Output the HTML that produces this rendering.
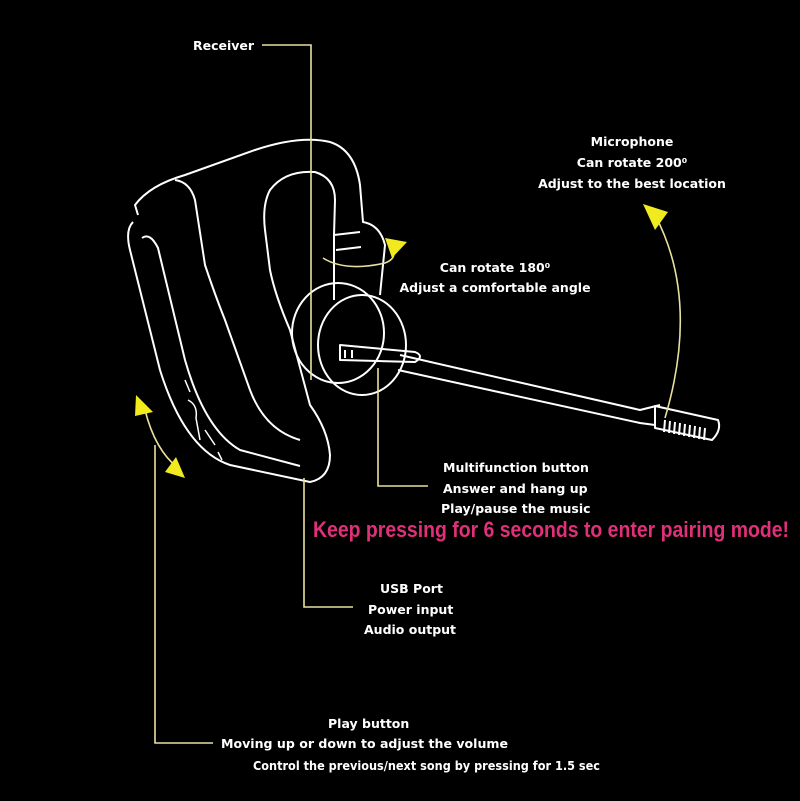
<!DOCTYPE html>
<html><head><meta charset="utf-8"><style>
html,body{margin:0;padding:0;background:#000;}
svg{display:block}
text{font-family:"DejaVu Sans","Liberation Sans",sans-serif;fill:#fff;font-size:12.5px;font-weight:bold;}
</style></head><body>
<svg width="800" height="801" viewBox="0 0 800 801">
<rect width="800" height="801" fill="#000"/>
<g fill="none" stroke="#fff" stroke-width="2" stroke-linejoin="round">
 <path d="M138,215 L135,205 Q150,185 185,175 L255,150 Q300,135 330,142 Q355,150 360,185 L363,222 Q380,225 385,245 L380,295"/>
 <path d="M133,222 Q125,230 130,250 L160,370 Q185,450 230,465 L310,482 Q330,478 330,455 Q328,430 310,405 L290,330 Q275,295 270,270 L265,230 Q262,205 270,190 Q285,170 315,172 Q335,178 335,200 L334,235"/>
 <path d="M142,238 Q150,232 158,248 L185,360 Q205,430 240,450 L300,466"/>
 <path d="M175,180 Q190,182 195,200 L205,265 Q215,295 225,320 L250,390 Q265,430 300,440"/>
 <path d="M334,235 L360,232 M336,250 L361,247 M334,235 L334,300"/>
 <ellipse cx="338" cy="333" rx="46" ry="50"/>
 <ellipse cx="362" cy="345" rx="44" ry="50"/>
 <path d="M340,345 L415,352 Q425,356 415,362 L340,360 Z"/>
 <path d="M345,350 L345,358 M352,350 L352,358"/>
 <path d="M400,355 L640,410 L660,405 M398,370 L640,423 L655,425"/>
 <path d="M655,406 L718,420 Q722,430 712,440 L655,428 Z"/>
 <path d="M665,420 L664,432 M670,421 L669,433 M675,422 L674,434 M680,423 L679,435 M685,424 L684,436 M690,425 L689,437 M695,426 L694,438 M700,427 L699,439 M705,428 L704,440"/>
 <path d="M185,380 L190,392 M188,400 Q198,405 196,418 L200,440 M205,430 L215,445 M218,452 L222,460" stroke-width="1.5"/>
</g>
<g fill="none" stroke="#e8e0a0" stroke-width="1.6">
 <path d="M262,45 L311,45 L311,380"/>
 <path d="M304,478 L304,607 L353,607"/>
 <path d="M378,368 L378,486 L428,486"/>
 <path d="M155,445 L155,743 L213,743"/>
</g>
<g fill="none" stroke="#e8e0a0" stroke-width="1.6">
 <path d="M665,418 Q700,300 655,215"/>
 <path d="M145,410 Q155,450 178,468"/>
 <path d="M323,258 Q345,272 385,263 Q398,258 392,248"/>
</g>
<g fill="#f0ea1e">
 <polygon points="643,204 668,212 655,230"/>
 <polygon points="136,395 153,412 135,416"/>
 <polygon points="185,478 165,472 176,457"/>
 <polygon points="407,242 385,238 392,258"/>
</g>
<text x="193" y="50">Receiver</text>
<text x="632" y="146" text-anchor="middle">Microphone</text>
<text x="632" y="167" text-anchor="middle">Can rotate 200⁰</text>
<text x="632" y="188" text-anchor="middle">Adjust to the best location</text>
<text x="495" y="272" text-anchor="middle">Can rotate 180⁰</text>
<text x="495" y="292" text-anchor="middle">Adjust a comfortable angle</text>
<text x="443" y="472">Multifunction button</text>
<text x="443" y="493">Answer and hang up</text>
<text x="441" y="513">Play/pause the music</text>
<text x="313" y="537" textLength="476" lengthAdjust="spacingAndGlyphs" style="font-family:'Liberation Sans',sans-serif;font-weight:bold;font-size:22px;fill:#e0307a">Keep pressing for 6 seconds to enter pairing mode!</text>
<text x="380" y="593">USB Port</text>
<text x="368" y="614">Power input</text>
<text x="364" y="634">Audio output</text>
<text x="328" y="728">Play button</text>
<text x="221" y="748" textLength="287" lengthAdjust="spacingAndGlyphs">Moving up or down to adjust the volume</text>
<text x="253" y="770" textLength="347" lengthAdjust="spacingAndGlyphs">Control the previous/next song by pressing for 1.5 sec</text>
</svg>
</body></html>
